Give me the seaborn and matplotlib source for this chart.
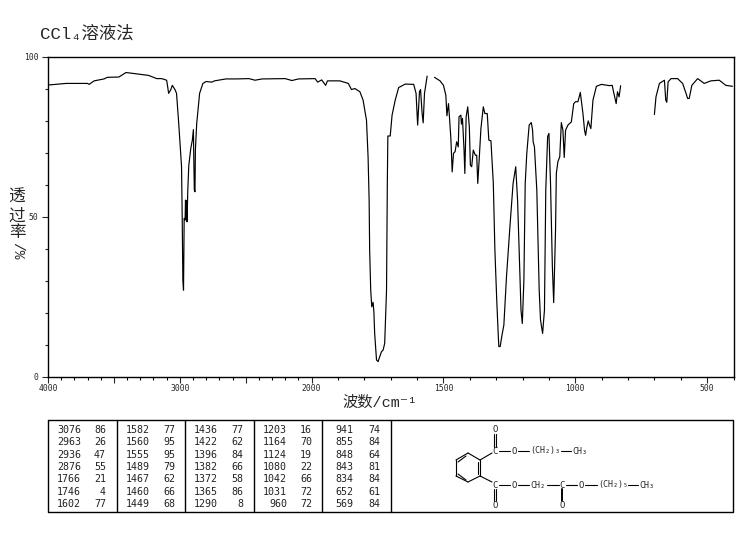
"""
IR spectrum in CCl4 solution, with peak table and structure below.
"""
import matplotlib
matplotlib.use("Agg")
import matplotlib.pyplot as plt
import numpy as np
import pandas as pd
import seaborn as sns

# trace is broken in two places (solvent windows), so three pieces
wn_a = [4000, 3862, 3700, 3688, 3650, 3575, 3550, 3462, 3408, 3350, 3237, 3175, 3137, 3100,
        3092, 3085, 3070, 3057, 3037, 3025, 3012, 3000, 2987, 2982, 2977, 2972, 2967, 2960,
        2957, 2952, 2950, 2945, 2940, 2932, 2917, 2905, 2897, 2895, 2890, 2885, 2882, 2872,
        2862, 2850, 2825, 2800, 2757, 2737, 2650, 2575, 2475, 2430, 2375, 2200, 2150, 2100,
        1987, 1977, 1962, 1947, 1940, 1893, 1861, 1849, 1836, 1817, 1805, 1792, 1786, 1782,
        1780, 1776, 1772, 1767, 1764, 1761, 1754, 1748, 1742, 1735, 1729, 1723, 1716, 1713,
        1711, 1702, 1695, 1683, 1670, 1645, 1613, 1604, 1598, 1591, 1587, 1581, 1577, 1572,
        1562]
t_a = [91.1, 91.6, 91.6, 91.3, 92.4, 93, 93.5, 93.6, 95, 94.7, 94.1, 93.1, 93.1, 92.6,
       90.5, 88.5, 89.5, 91, 89.7, 88.5, 81.2, 73.9, 65.6, 50, 30.2, 27.1, 49.5, 49,
       55.2, 49, 55, 48.4, 57.8, 66, 71.3, 73.9, 77.2, 70.8, 58.3, 57.8, 70.8, 79.1,
       83.3, 88.5, 91.6, 92.2, 92, 92.4, 93, 93, 93.1, 92.6, 93, 93.1, 92.5, 93,
       93.1, 92, 92.7, 91, 92.4, 92.4, 91.6, 89.7, 90, 89, 86.4, 80.1, 68.7, 55.2,
       39.6, 27.1, 21.9, 23.3, 20.4, 13.6, 5.3, 4.8, 6.3, 7.9, 8.4, 10.5, 27.1, 60.4,
       75.2, 75.2, 81.7, 86.4, 90.3, 91.4, 91.3, 88.5, 78.6, 89, 89.7, 82.2, 79.3, 88.5,
       93.9]

wn_b = [1534, 1513, 1500, 1491, 1487, 1481, 1477, 1472, 1467, 1462, 1456, 1450, 1444, 1441,
        1434, 1432, 1428, 1422, 1419, 1414, 1408, 1402, 1398, 1393, 1387, 1379, 1374, 1370,
        1364, 1358, 1349, 1343, 1334, 1328, 1320, 1311, 1305, 1298, 1292, 1290, 1285, 1278,
        1271, 1261, 1248, 1236, 1226, 1219, 1213, 1206, 1201, 1195, 1190, 1184, 1175, 1167,
        1162, 1160, 1155, 1146, 1137, 1132, 1124, 1117, 1112, 1105, 1100, 1094, 1087, 1082,
        1075, 1072, 1066, 1059, 1053, 1047, 1042, 1037, 1028, 1015, 1006, 999, 990, 981,
        971, 965, 961, 956, 951, 946, 941, 933, 920, 901, 870, 860, 855, 845, 840, 834, 828]
t_b = [93.5, 92.4, 91, 87.9, 81.5, 85.3, 80.7, 74.4, 64, 69.8, 70.3, 73.4, 71.8, 81.2,
       81.7, 78.9, 80.7, 70.8, 63.5, 81.2, 84.3, 78.1, 66.1, 65.6, 70.8, 69.2, 69.2, 60.4,
       68.7, 77.5, 84.3, 82.2, 82.2, 73.9, 73.7, 60.4, 39.6, 24, 12.6, 9.5, 9.5, 13.1,
       16.2, 31.3, 46.9, 60.4, 65.6, 55.2, 39.6, 20.9, 16.7, 30.2, 60.4, 69.8, 78.6, 79.4,
       77, 73.4, 71.8, 58.3, 27.1, 17.8, 13.6, 20.9, 58.3, 75, 76, 60.4, 34.4, 23.2,
       45.8, 63.5, 67.2, 68.7, 79.4, 77, 68.5, 77, 78.6, 79.6, 85.3, 85.9, 85.9, 88.8,
       82.2, 77, 75.4, 78, 79.9, 78.6, 77.5, 86.4, 90.7, 91.3, 90.9, 91, 89, 85.3, 89, 87.4, 90.9]

wn_c = [700, 694, 681, 662, 657, 653, 648, 637, 612, 593, 580, 574, 568, 558, 536, 511, 486, 454, 429, 404]
t_c = [81.9, 87.4, 91.6, 92.6, 86.4, 85.7, 92.1, 93.1, 93.1, 91.6, 88.5, 86.9, 86.9, 91, 93.1, 91.6, 92.4, 92.6, 91, 90.7]

# peak table, read column by column
peak_wn = [3076, 2963, 2936, 2876, 1766, 1746, 1602,
           1582, 1560, 1555, 1489, 1467, 1460, 1449,
           1436, 1422, 1396, 1382, 1372, 1365, 1290,
           1203, 1164, 1124, 1080, 1042, 1031, 960,
           941, 855, 848, 843, 834, 652, 569]
peak_t = [86, 26, 47, 55, 21, 4, 77,
          77, 95, 95, 79, 62, 66, 68,
          77, 62, 84, 66, 58, 86, 8,
          16, 70, 19, 22, 66, 72, 72,
          74, 84, 64, 81, 84, 61, 84]

x_major = [4000, 3500, 3000, 2500, 2000, 1500, 1000, 500]
x_labels = ["4000", "", "3000", "", "2000", "1500", "1000", "500"]
x_minor = [v for v in range(400, 4000, 100) if v % 500]
y_major = [0, 50, 100]

W, H = 748, 539
MONO = "DejaVu Sans Mono"
CJK = ["Noto Sans CJK SC", "DejaVu Sans"]
MIXED = ["Liberation Mono", "Noto Sans CJK SC", "DejaVu Sans"]

sns.set_theme(style="white", rc={"axes.edgecolor": "black", "axes.linewidth": 1.0})
plt.rcParams["font.family"] = CJK


def forward(x):
    # chart scale doubles below 2000 cm-1
    x = np.asarray(x, dtype=float)
    return np.where(x > 2000, 2000 + (x - 2000) / 2, x)


def inverse(u):
    u = np.asarray(u, dtype=float)
    return np.where(u > 2000, 2000 + (u - 2000) * 2, u)


fig = plt.figure(figsize=(W / 100, H / 100), dpi=100)
ax = fig.add_axes([48 / W, 1 - 377 / H, (733.5 - 48) / W, (377 - 56.5) / H])

for wn, t in [(wn_a, t_a), (wn_b, t_b), (wn_c, t_c)]:
    frame = pd.DataFrame({"wn": wn, "t": t})
    sns.lineplot(data=frame, x="wn", y="t", sort=False, estimator=None,
                 color="black", lw=0.85, ax=ax)

ax.set_xscale("function", functions=(forward, inverse))
ax.set_xticks(x_major)
ax.set_xticklabels(x_labels, family=MONO, fontsize=5.8)
ax.set_yticks(y_major)
ax.set_yticks(np.arange(0, 101, 10), minor=True)
ax.set_yticklabels([str(v) for v in y_major], family=MONO, fontsize=5.8)
ax.tick_params(axis="x", which="major", direction="out", length=4, width=0.8, pad=1, bottom=True)
ax.tick_params(axis="y", which="major", direction="out", length=4, width=0.8, pad=3, left=True)
ax.tick_params(axis="y", which="minor", direction="out", length=2, width=0.8, left=True)
ax.set_xlabel("")
ax.set_ylabel("")
ax.set_xlim(4000, 400)
ax.set_ylim(0, 100)
# minor x ticks did not show on the function scale, so draw them as short lines
ax.vlines(x_minor, -0.85, 0, color="black", lw=0.8, clip_on=False)

# overlay in image pixels for the captions, table and structure
ov = fig.add_axes([0, 0, 1, 1], facecolor="none")
ov.set_xlim(0, W)
ov.set_ylim(H, 0)
ov.axis("off")

ov.text(40, 33, "CCl₄溶液法", fontsize=12.5, ha="left", va="center", family=MIXED)
ov.text(380, 403, "波数/cm⁻¹", fontsize=11, ha="center", va="center", family=MIXED)
for ch, y in zip("透过率", [197, 216, 233]):
    ov.text(17, y, ch, fontsize=12, ha="center", va="center")
ov.text(17, 251, "/%", fontsize=10.5, rotation=-90, ha="center", va="center",
        family="Liberation Mono")

# table frame
ov.plot([48, 733, 733, 48, 48], [420, 420, 512, 512, 420], color="black", lw=1)
for x in [117, 185, 254, 322, 391]:
    ov.plot([x, x], [420, 512], color="black", lw=1)

col_wn_right = [81, 150, 218, 287, 353]
col_t_right = [106, 175, 243, 312, 380]
for i, (w, t) in enumerate(zip(peak_wn, peak_t)):
    col, row = divmod(i, 7)
    y = 430 + row * 12.33
    ov.text(col_wn_right[col], y, str(w), family=MONO, fontsize=7.2, ha="right", va="center", color="#222222")
    ov.text(col_t_right[col], y, str(t), family=MONO, fontsize=7.2, ha="right", va="center", color="#222222")


# structure drawing
def bond(x0, y0, x1, y1, lw=0.8):
    ov.plot([x0, x1], [y0, y1], color="black", lw=lw)


def atom(x, y, s):
    ov.text(x, y, s, family=MONO, fontsize=6.6, ha="center", va="center")


def group(x, y, s):
    ov.text(x, y, s, family=MONO, fontsize=6, ha="left", va="center")


ring = [(480, 460), (480, 476), (468, 482), (456, 476), (456, 460), (468, 453), (480, 460)]
for (x0, y0), (x1, y1) in zip(ring[:-1], ring[1:]):
    bond(x0, y0, x1, y1)
bond(478, 462, 478, 474)
bond(458, 462, 466, 456)
bond(458, 474, 466, 480)
bond(480, 460, 492, 453)
bond(480, 476, 492, 482)
bond(494, 447, 494, 434)
bond(496, 447, 496, 434)
bond(494, 489, 494, 501)
bond(496, 489, 496, 501)
bond(499, 451, 510, 451)
bond(518, 451, 529, 451)
bond(561, 451, 571, 451)
bond(499, 485, 510, 485)
bond(518, 485, 529, 485)
bond(547, 485, 559, 485)
bond(566, 485, 577, 485)
bond(562.5, 489, 562.5, 501, lw=1.4)
bond(585, 485, 597, 485)
bond(628, 485, 638, 485)

atom(495, 430, "O")
atom(495, 451, "C")
atom(514, 451, "O")
group(530, 451, "(CH₂)₃")
group(572, 451, "CH₃")
atom(495, 485, "C")
atom(495, 505, "O")
atom(514, 485, "O")
group(530, 485, "CH₂")
atom(562.5, 485, "C")
atom(562.5, 505, "O")
atom(581, 485, "O")
group(598, 485, "(CH₂)₅")
group(639, 485, "CH₃")

fig.savefig("out.png", dpi=100)
